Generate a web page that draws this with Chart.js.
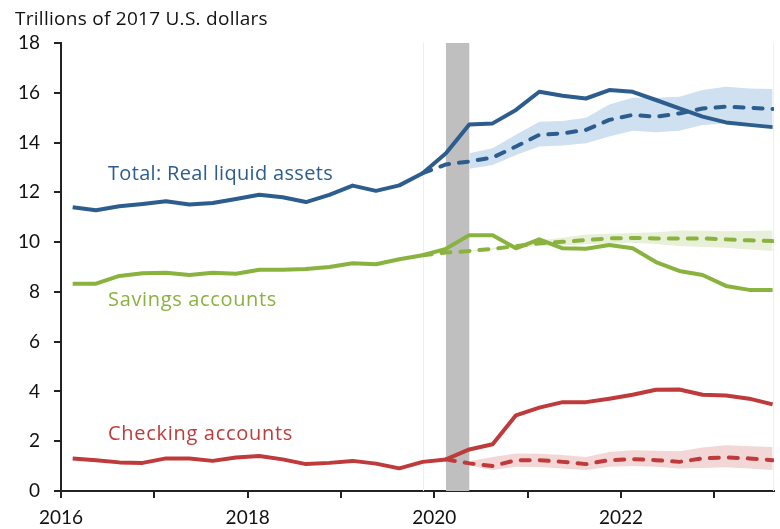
<!DOCTYPE html>
<html>
<head>
<meta charset="utf-8">
<script src="https://cdn.jsdelivr.net/npm/chart.js@4.4.1/dist/chart.umd.min.js"></script>
<style>
  html, body { margin: 0; padding: 0; background: #fff; }
  #wrap { width: 780px; height: 529px; }
</style>
</head>
<body>
<div id="wrap"><canvas id="liquidChart" width="780" height="529"></canvas></div>
<script>
// quarters, 2016Q1 .. 2023Q3
const quarters = [
  '2016Q1','2016Q2','2016Q3','2016Q4','2017Q1','2017Q2','2017Q3','2017Q4',
  '2018Q1','2018Q2','2018Q3','2018Q4','2019Q1','2019Q2','2019Q3','2019Q4',
  '2020Q1','2020Q2','2020Q3','2020Q4','2021Q1','2021Q2','2021Q3','2021Q4',
  '2022Q1','2022Q2','2022Q3','2022Q4','2023Q1','2023Q2','2023Q3'
];

const totalActual = [
  11.40, 11.28, 11.44, 11.53, 11.64, 11.51, 11.57, 11.73,
  11.90, 11.80, 11.61, 11.90, 12.27, 12.06, 12.28, 12.77,
  13.57, 14.73, 14.77, 15.31, 16.04, 15.88, 15.77, 16.11,
  16.04, 15.71, 15.37, 15.04, 14.81, 14.71, 14.62
];
const totalTrend = [
  null, null, null, null, null, null, null, null,
  null, null, null, null, null, null, null, 12.77,
  13.12, 13.24, 13.40, 13.84, 14.31, 14.37, 14.51, 14.91,
  15.11, 15.04, 15.17, 15.37, 15.44, 15.40, 15.35
];
const totalHigh = [
  null, null, null, null, null, null, null, null,
  null, null, null, null, null, null, null, null,
  null, 13.57, 13.77, 14.31, 14.84, 14.87, 15.00, 15.53,
  15.80, 15.80, 15.84, 16.11, 16.24, 16.17, 16.15
];
const totalLow = [
  null, null, null, null, null, null, null, null,
  null, null, null, null, null, null, null, null,
  null, 12.95, 13.10, 13.50, 13.84, 13.88, 13.97, 14.24,
  14.47, 14.41, 14.47, 14.71, 14.77, 14.73, 14.68
];

const savingsActual = [
  8.33, 8.33, 8.64, 8.75, 8.77, 8.68, 8.77, 8.73,
  8.89, 8.89, 8.92, 9.00, 9.15, 9.11, 9.31, 9.47,
  9.73, 10.28, 10.28, 9.75, 10.11, 9.75, 9.73, 9.88,
  9.75, 9.20, 8.84, 8.68, 8.24, 8.08, 8.08
];
const savingsTrend = [
  null, null, null, null, null, null, null, null,
  null, null, null, null, null, null, null, 9.47,
  9.58, 9.64, 9.73, 9.84, 9.95, 10.01, 10.08, 10.15,
  10.17, 10.15, 10.15, 10.15, 10.11, 10.07, 10.04
];
const savingsHigh = [
  null, null, null, null, null, null, null, null,
  null, null, null, null, null, null, null, null,
  null, 9.66, 9.76, 9.90, 10.07, 10.18, 10.31, 10.34,
  10.37, 10.40, 10.47, 10.46, 10.44, 10.45, 10.47
];
const savingsLow = [
  null, null, null, null, null, null, null, null,
  null, null, null, null, null, null, null, null,
  null, 9.62, 9.70, 9.78, 9.84, 9.86, 9.91, 9.94,
  9.97, 9.92, 9.84, 9.80, 9.77, 9.70, 9.64
];

const checkingActual = [
  1.31, 1.24, 1.15, 1.13, 1.31, 1.31, 1.21, 1.35,
  1.41, 1.27, 1.08, 1.13, 1.21, 1.10, 0.91, 1.17,
  1.27, 1.67, 1.88, 3.04, 3.35, 3.57, 3.57, 3.71,
  3.87, 4.07, 4.08, 3.87, 3.84, 3.71, 3.48
];
const checkingTrend = [
  null, null, null, null, null, null, null, null,
  null, null, null, null, null, null, null, null,
  1.27, 1.11, 1.00, 1.24, 1.24, 1.17, 1.08, 1.24,
  1.28, 1.24, 1.17, 1.31, 1.35, 1.31, 1.24
];
const checkingHigh = [
  null, null, null, null, null, null, null, null,
  null, null, null, null, null, null, null, null,
  null, 1.20, 1.37, 1.51, 1.50, 1.45, 1.37, 1.57,
  1.64, 1.62, 1.60, 1.75, 1.84, 1.80, 1.77
];
const checkingLow = [
  null, null, null, null, null, null, null, null,
  null, null, null, null, null, null, null, null,
  null, 1.02, 0.84, 0.97, 0.96, 0.90, 0.84, 0.97,
  1.00, 0.97, 0.90, 0.92, 0.95, 0.90, 0.84
];

const yTicks = [0, 2, 4, 6, 8, 10, 12, 14, 16, 18];
const xLabelYears = [2016, 2018, 2020, 2022];
const recession = [2020.125, 2020.375];
const baseQuarter = 2019.875;

const BLUE = '#2c5d8e';
const GREEN = '#8ab23e';
const RED = '#bf3a3a';
const FONT = 'Lato, "Open Sans", sans-serif';
const LABEL_FONT = '"Open Sans", Lato, sans-serif';

// quarter label -> decimal year at mid quarter
function qx(q) {
  const year = parseInt(q.slice(0, 4));
  const n = parseInt(q.slice(5));
  return year + (n - 1) * 0.25 + 0.125;
}
function pts(arr) {
  return arr.map((v, i) => ({ x: qx(quarters[i]), y: v }));
}

function line(data, color, dashed) {
  return {
    data: pts(data),
    borderColor: color,
    borderWidth: 4,
    borderDash: dashed ? [9, 10] : [],
    borderCapStyle: dashed ? 'round' : 'butt',
    borderJoinStyle: 'round',
    pointRadius: 0,
    fill: false,
    tension: 0
  };
}
function band(data, color, fillTo) {
  return {
    data: pts(data),
    borderWidth: 0,
    borderColor: 'transparent',
    backgroundColor: color,
    pointRadius: 0,
    fill: fillTo,
    tension: 0
  };
}

// text stretched to the width it has in the original
function wideText(ctx, text, x, y, width) {
  ctx.letterSpacing = '0px';
  const w = ctx.measureText(text).width;
  ctx.letterSpacing = ((width - w) / text.length).toFixed(2) + 'px';
  ctx.fillText(text, x, y);
  ctx.letterSpacing = '0px';
}

const annotations = {
  id: 'annotations',
  beforeDatasetsDraw(chart) {
    const ctx = chart.ctx;
    const x = chart.scales.x;
    const area = chart.chartArea;
    ctx.save();
    ctx.strokeStyle = '#eeeeee';
    ctx.lineWidth = 1;
    ctx.beginPath();
    ctx.moveTo(Math.round(x.getPixelForValue(baseQuarter)) + 0.5, area.top);
    ctx.lineTo(Math.round(x.getPixelForValue(baseQuarter)) + 0.5, area.bottom);
    ctx.moveTo(area.right - 0.5, area.top);
    ctx.lineTo(area.right - 0.5, area.bottom);
    ctx.stroke();
    // recession
    const x0 = x.getPixelForValue(recession[0]);
    const x1 = x.getPixelForValue(recession[1]);
    ctx.fillStyle = '#bfbfbf';
    ctx.fillRect(x0, area.top, x1 - x0, area.bottom - area.top);
    ctx.restore();
  },
  afterDraw(chart) {
    const ctx = chart.ctx;
    ctx.save();
    ctx.textBaseline = 'middle';
    ctx.textAlign = 'left';
    ctx.fillStyle = '#111';
    ctx.font = '19px ' + LABEL_FONT;
    wideText(ctx, 'Trillions of 2017 U.S. dollars', 15, 20, 253);
    ctx.font = '20px ' + LABEL_FONT;
    ctx.fillStyle = BLUE;
    wideText(ctx, 'Total: Real liquid assets', 108, 174, 225);
    ctx.fillStyle = GREEN;
    wideText(ctx, 'Savings accounts', 108, 300, 169);
    ctx.fillStyle = RED;
    wideText(ctx, 'Checking accounts', 108, 434, 185);
    ctx.restore();
  }
};

new Chart(document.getElementById('liquidChart'), {
  type: 'line',
  data: {
    datasets: [
      line(totalActual, BLUE, false),
      line(totalTrend, BLUE, true),
      line(savingsActual, GREEN, false),
      line(savingsTrend, GREEN, true),
      line(checkingActual, RED, false),
      line(checkingTrend, RED, true),
      band(totalHigh, '#cfe0f1', '+1'),
      band(totalLow, '#cfe0f1', false),
      band(savingsHigh, '#e8f0d9', '+1'),
      band(savingsLow, '#e8f0d9', false),
      band(checkingHigh, '#f3d6d6', '+1'),
      band(checkingLow, '#f3d6d6', false)
    ]
  },
  options: {
    responsive: false,
    animation: false,
    events: [],
    layout: { padding: { top: 43, right: 6, left: 0, bottom: 0 } },
    plugins: {
      legend: { display: false },
      tooltip: { enabled: false },
      title: { display: false }
    },
    scales: {
      x: {
        type: 'linear',
        min: 2016,
        max: 2023.64,
        afterFit(scale) { scale.height = 38; },
        grid: { display: true, drawOnChartArea: false, drawTicks: true, tickLength: 7, color: '#222', lineWidth: 2 },
        border: { display: true, color: '#222', width: 2 },
        ticks: {
          stepSize: 1,
          includeBounds: false,
          maxRotation: 0,
          autoSkip: false,
          padding: 8,
          color: '#111',
          font: { family: FONT, size: 19 },
          callback: v => xLabelYears.includes(v) ? String(v) : ''
        }
      },
      y: {
        min: yTicks[0],
        max: yTicks[yTicks.length - 1],
        afterFit(scale) { scale.width = 61; },
        afterBuildTicks(scale) { scale.ticks = yTicks.map(v => ({ value: v })); },
        grid: { display: true, drawOnChartArea: false, drawTicks: true, tickLength: 7, color: '#222', lineWidth: 2 },
        border: { display: true, color: '#222', width: 2 },
        ticks: {
          padding: 14,
          color: '#111',
          font: { family: FONT, size: 19 }
        }
      }
    }
  },
  plugins: [annotations]
});
</script>
</body>
</html>
